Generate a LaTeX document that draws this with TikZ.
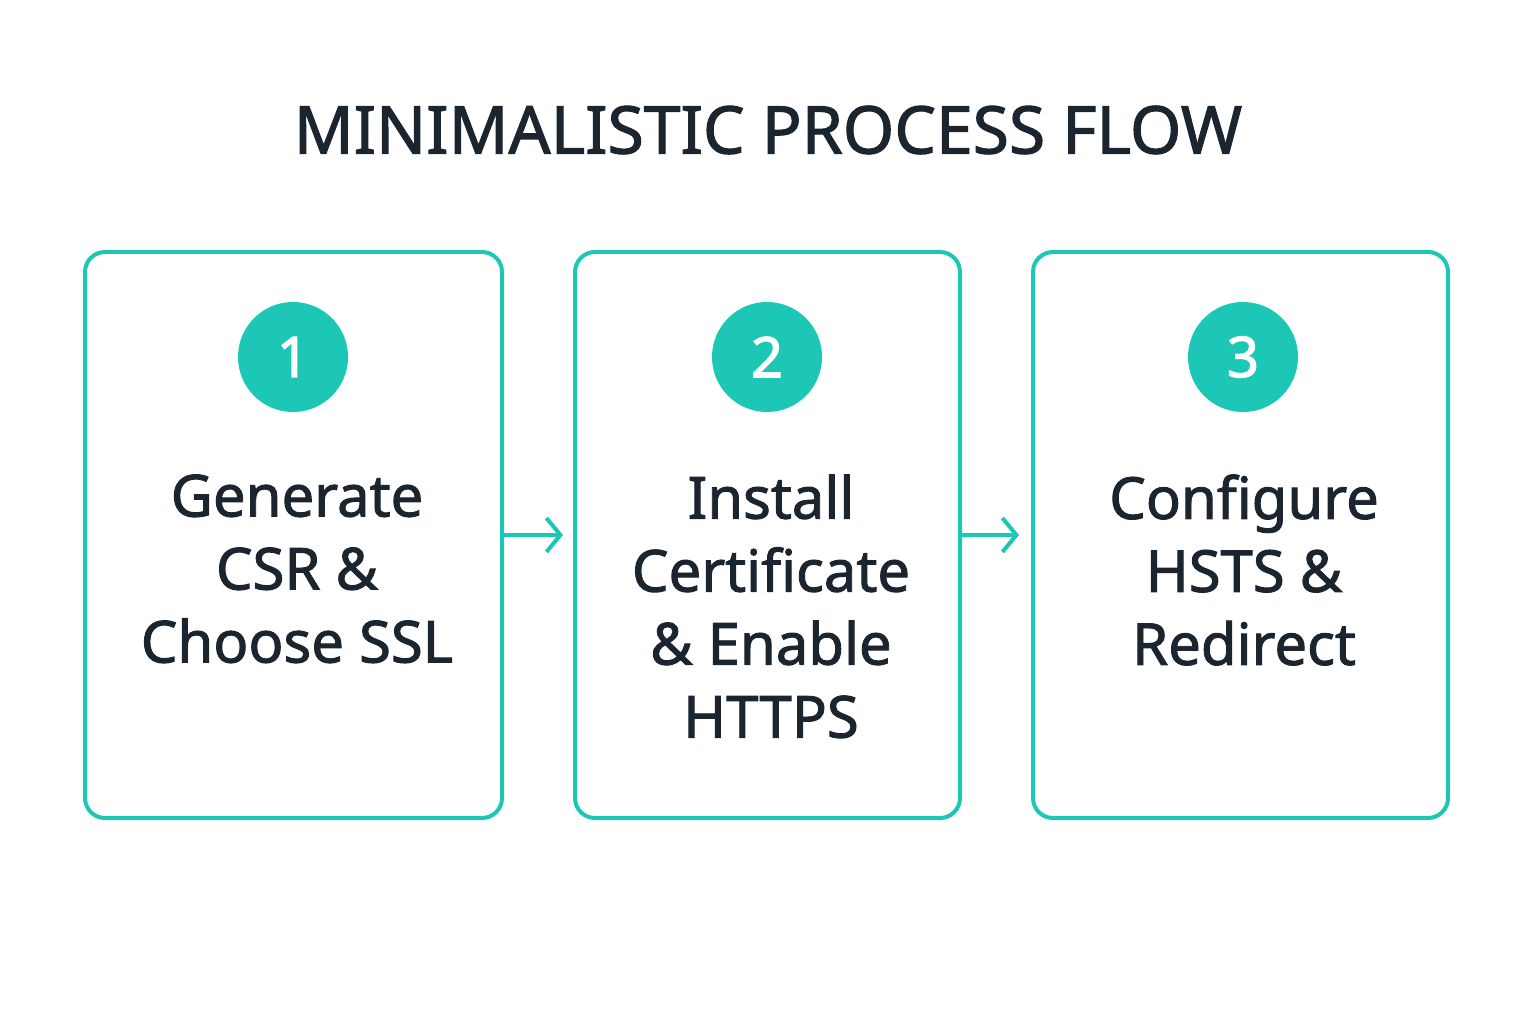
\documentclass[tikz,border=0pt]{standalone}
\usepackage{fontspec}
\setmainfont{Noto Sans}[FakeBold=1.6]
\newfontfamily\numfont{Noto Sans}[FakeBold=2.2]
\usetikzlibrary{arrows.meta}
\definecolor{teal1}{HTML}{1CC7B6}
\definecolor{ink}{HTML}{1B2530}
\begin{document}
\begin{tikzpicture}[x=1pt,y=-1pt,
  stepbox/.style={draw=teal1,line width=4pt,rounded corners=20pt,inner sep=0pt},
  num/.style={circle,fill=teal1,minimum size=110pt,inner sep=0pt,text=white,font=\numfont\bfseries\fontsize{56}{64}\selectfont},
  label/.style={text=ink,align=center,font=\fontsize{58}{73}\selectfont},
  conn/.style={draw=teal1,line width=4pt,-{Straight Barb[length=14pt,width=34pt,line width=4pt]}}]
\useasboundingbox[fill=white] (0,0) rectangle (1536,1024);
\node[text=ink,font=\fontsize{66}{80}\selectfont] (title) at (768,130) {MINIMALISTIC PROCESS FLOW};
\node[stepbox,minimum width=417pt,minimum height=566pt] (b1) at (293.5,535) {};
\node[stepbox,minimum width=385pt,minimum height=566pt] (b2) at (767.5,535) {};
\node[stepbox,minimum width=415pt,minimum height=566pt] (b3) at (1240.5,535) {};
\node[num] (n1) at (293,357) {1};
\node[num] (n2) at (767,357) {2};
\node[num] (n3) at (1243,357) {3};
\node[label,anchor=north] (t1) at (297,471) {Generate\\CSR \&\\Choose SSL};
\node[label,anchor=north] (t2) at (771,471) {Install\\Certificate\\\& Enable\\HTTPS};
\node[label,anchor=north] (t3) at (1244,471) {Configure\\HSTS \&\\Redirect};
\draw[conn] (b1.east) -- ([xshift=-10pt]b2.west);
\draw[conn] (b2.east) -- ([xshift=-12pt]b3.west);
\end{tikzpicture}
\end{document}
